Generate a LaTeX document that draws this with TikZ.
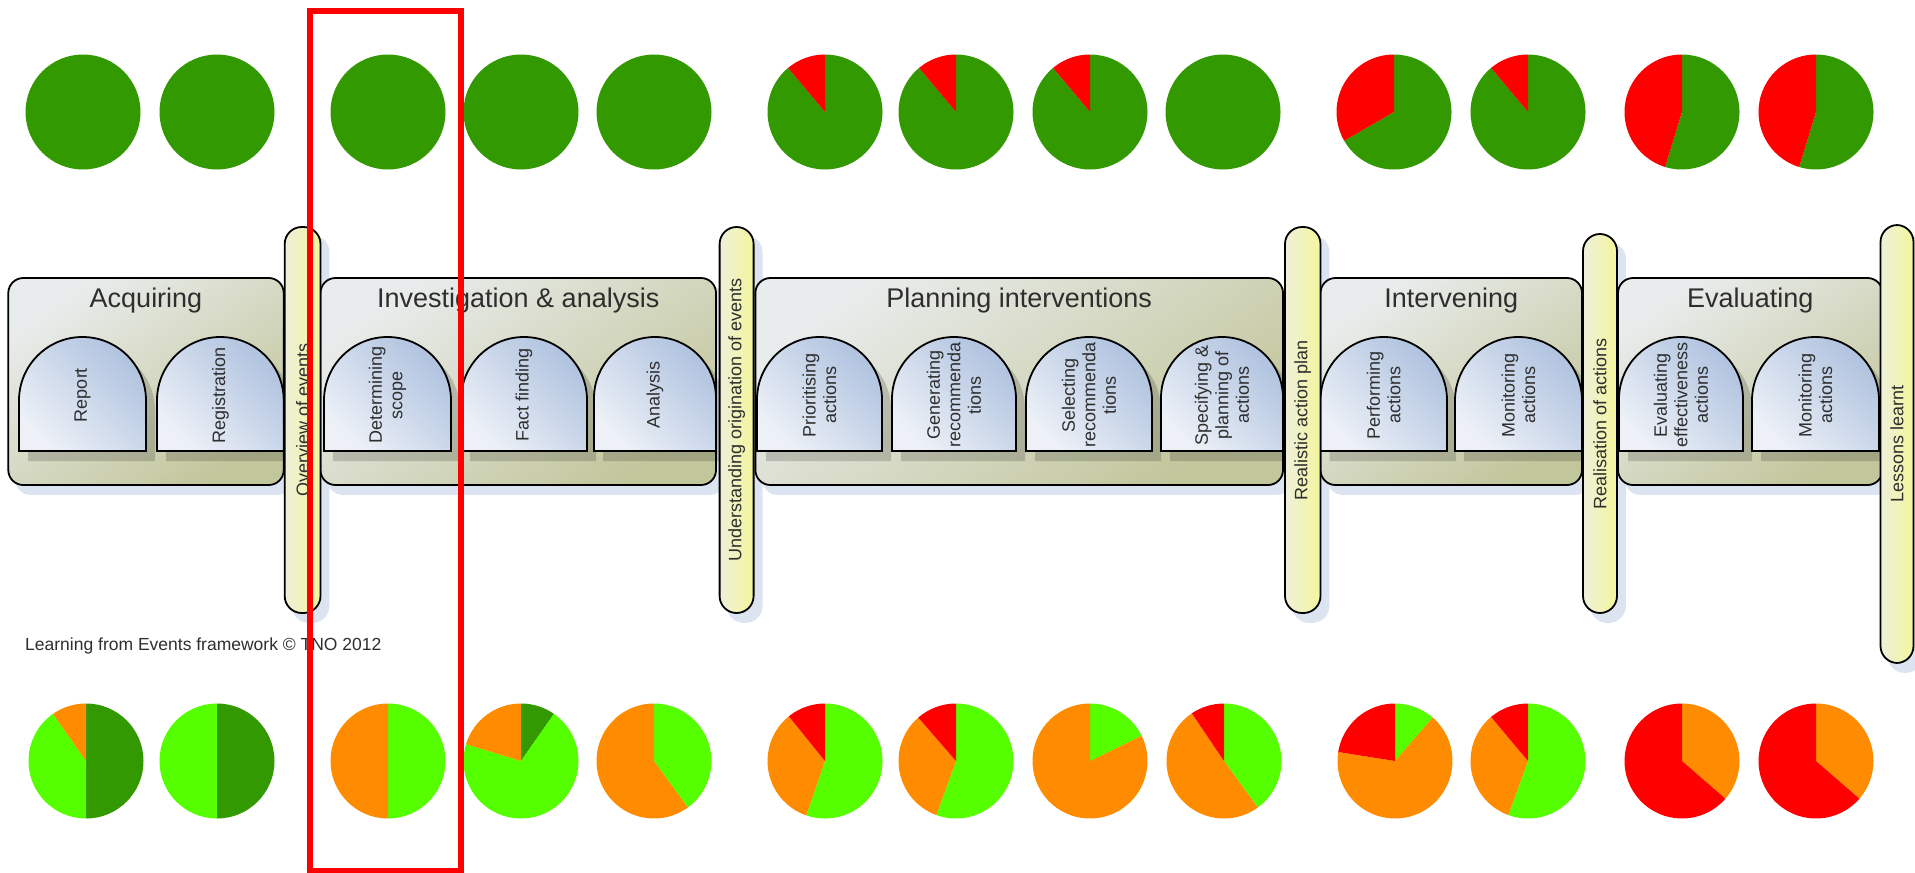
\documentclass[tikz,border=0pt]{standalone}
\usepackage{fontspec}
\setmainfont{Liberation Sans}

\definecolor{darkgreen}{HTML}{339900}
\definecolor{lightgreen}{HTML}{55FF00}
\definecolor{pieorange}{HTML}{FF8C00}
\definecolor{piered}{HTML}{FF0000}
\definecolor{boxlight}{HTML}{E9ECEC}
\definecolor{boxolive}{HTML}{C2C69B}
\definecolor{archlight}{HTML}{EDF1F7}
\definecolor{archblue}{HTML}{AFC2DF}
\definecolor{barpale}{HTML}{EEF0DA}
\definecolor{baryellow}{HTML}{F3F69C}
\definecolor{softshadow}{HTML}{DCE4F1}
\definecolor{inktext}{HTML}{2E2E2E}

\pgfdeclarelayer{shadow}
\pgfsetlayers{shadow,main}

\tikzset{
  phase/.style={draw=black, line width=1.8pt, rounded corners=15pt,
    top color=boxlight, bottom color=boxolive, shading angle=35, inner sep=0pt},
  phasetitle/.style={font=\fontsize{27}{30}\selectfont, text=inktext, anchor=base, inner sep=0pt},
  archbody/.style={draw=black, line width=1.8pt,
    top color=archblue, bottom color=archlight, shading angle=-45},
  archshade/.style={fill=black, fill opacity=0.17},
  archtext/.style={rotate=90, align=center, font=\fontsize{18}{20.5}\selectfont,
    text=inktext, inner sep=0pt},
  milestone/.style={draw=black, line width=1.8pt, rounded corners=17pt,
    left color=barpale, right color=baryellow, inner sep=0pt},
  milestonetext/.style={rotate=90, font=\fontsize{18}{21}\selectfont, text=inktext, inner sep=0pt},
  dropshade/.style={fill=softshadow},
}

% phase box: name, left, right, title
\newcommand\mkphase[4]{%
  \node[phase, minimum width={#3-#2}, minimum height=207pt] (#1) at ({(#2+#3)/2},381.5) {};
  \node[phasetitle] (#1-title) at ({(#2+#3)/2},307) {#4};
  \begin{pgfonlayer}{shadow}
    \fill[dropshade, rounded corners=15pt] ([shift={(8,9)}]#1.north west) rectangle ([shift={(8,9)}]#1.south east);
  \end{pgfonlayer}
}

% activity arch: name, left, right, text
\newcommand\mkarch[4]{%
  \pgfmathsetmacro\archrad{(#3-#2)/2}
  \fill[archshade] (#2+9,461) -- (#2+9,347+\archrad) arc[start angle=180, end angle=360, radius=\archrad] -- (#3+9,461) -- cycle;
  \shadedraw[archbody] (#2,451) -- (#2,337+\archrad) arc[start angle=180, end angle=360, radius=\archrad] -- (#3,451) -- cycle;
  \node[archtext] (#1) at ({(#2+#3)/2},395) {#4};
}

% milestone bar: name, centre x, top, bottom, width, text
\newcommand\mkmilestone[6]{%
  \node[milestone, minimum width=#5pt, minimum height={#4-#3}] (#1) at (#2,{(#3+#4)/2}) {};
  \node[milestonetext] (#1-label) at (#1.center) {#6};
  \begin{pgfonlayer}{shadow}
    \fill[dropshade, rounded corners=17pt] ([shift={(8,9)}]#1.north west) rectangle ([shift={(8,9)}]#1.south east);
  \end{pgfonlayer}
}

% pie chart: name, x, y, slices as start/end/colour (degrees clockwise from 12 o'clock)
\newcommand\mkpie[4]{%
  \coordinate (#1) at (#2,#3);
  \foreach \sa/\sb/\sc in {#4} {%
    \fill[\sc] (#1) -- ++({\sa-90}:57.5) arc[start angle={\sa-90}, end angle={\sb-90}, radius=57.5] -- cycle;
  }
}

\begin{document}
\begin{tikzpicture}[x=1pt, y=-1pt]
\useasboundingbox (0,0) rectangle (1915,873);

% phases
\mkphase{acquiring}{8.3}{283.7}{Acquiring}
\mkphase{investigation}{320.5}{716}{Investigation \& analysis}
\mkphase{planning}{755.4}{1283}{Planning interventions}
\mkphase{intervening}{1320.5}{1582}{Intervening}
\mkphase{evaluating}{1618}{1882.5}{Evaluating}

% activities
\mkarch{report}{19}{146}{Report}
\mkarch{registration}{157}{283.7}{Registration}
\mkarch{scope}{324}{451}{Determining\\scope}
\mkarch{facts}{461}{587}{Fact finding}
\mkarch{analysis}{594}{716}{Analysis}
\mkarch{prioritising}{757}{882}{Prioritising\\actions}
\mkarch{generating}{892}{1016}{Generating\\recommenda\\tions}
\mkarch{selecting}{1026}{1152}{Selecting\\recommenda\\tions}
\mkarch{specifying}{1161}{1283}{Specifying \&\\planning of\\actions}
\mkarch{performing}{1320.5}{1447}{Performing\\actions}
\mkarch{monitoring}{1455}{1582}{Monitoring\\actions}
\mkarch{effectiveness}{1619}{1743}{Evaluating\\effectiveness\\actions}
\mkarch{monitoringtwo}{1752}{1879}{Monitoring\\actions}

% milestones between phases
\mkmilestone{overview}{302.6}{227}{613}{35.8}{Overview of events}
\mkmilestone{origination}{736.6}{227}{613}{34}{Understanding origination of events}
\mkmilestone{actionplan}{1302.75}{227}{613}{35.5}{Realistic action plan}
\mkmilestone{realisation}{1600}{234}{613}{34}{Realisation of actions}
\mkmilestone{lessons}{1897}{225}{663}{33}{Lessons learnt}

% upper row of pies
\mkpie{top1}{83}{112}{0/360/darkgreen}
\mkpie{top2}{217}{112}{0/360/darkgreen}
\mkpie{top3}{388}{112}{0/360/darkgreen}
\mkpie{top4}{521}{112}{0/360/darkgreen}
\mkpie{top5}{654}{112}{0/360/darkgreen}
\mkpie{top6}{825}{112}{0/320/darkgreen, 320/360/piered}
\mkpie{top7}{956}{112}{0/320/darkgreen, 320/360/piered}
\mkpie{top8}{1090}{112}{0/320/darkgreen, 320/360/piered}
\mkpie{top9}{1223}{112}{0/360/darkgreen}
\mkpie{top10}{1394}{112}{0/240/darkgreen, 240/360/piered}
\mkpie{top11}{1528}{112}{0/320/darkgreen, 320/360/piered}
\mkpie{top12}{1682}{112}{0/197/darkgreen, 197/360/piered}
\mkpie{top13}{1816}{112}{0/197/darkgreen, 197/360/piered}

% lower row of pies
\mkpie{low1}{86}{761}{0/180/darkgreen, 180/325/lightgreen, 325/360/pieorange}
\mkpie{low2}{217}{761}{0/180/darkgreen, 180/360/lightgreen}
\mkpie{low3}{388}{761}{0/180/lightgreen, 180/360/pieorange}
\mkpie{low4}{521}{761}{0/35/darkgreen, 35/287/lightgreen, 287/360/pieorange}
\mkpie{low5}{654}{761}{0/144/lightgreen, 144/360/pieorange}
\mkpie{low6}{825}{761}{0/199/lightgreen, 199/321/pieorange, 321/360/piered}
\mkpie{low7}{956}{761}{0/200/lightgreen, 200/319/pieorange, 319/360/piered}
\mkpie{low8}{1090}{761}{0/64/lightgreen, 64/360/pieorange}
\mkpie{low9}{1224}{761}{0/144/lightgreen, 144/326/pieorange, 326/360/piered}
\mkpie{low10}{1395}{761}{0/41/lightgreen, 41/279/pieorange, 279/360/piered}
\mkpie{low11}{1528}{761}{0/200/lightgreen, 200/320/pieorange, 320/360/piered}
\mkpie{low12}{1682}{761}{0/131/pieorange, 131/360/piered}
\mkpie{low13}{1816}{761}{0/131/pieorange, 131/360/piered}

% credit line
\node[anchor=base west, font=\fontsize{17.5}{20}\selectfont, text=inktext, inner sep=0pt]
  (credit) at (25,650.5) {Learning from Events framework © TNO 2012};

% highlight frame
\node[draw=piered, line width=5.5pt, minimum width=151pt, minimum height=860pt, inner sep=0pt]
  (focus) at (385.5,441) {};
\end{tikzpicture}
\end{document}
